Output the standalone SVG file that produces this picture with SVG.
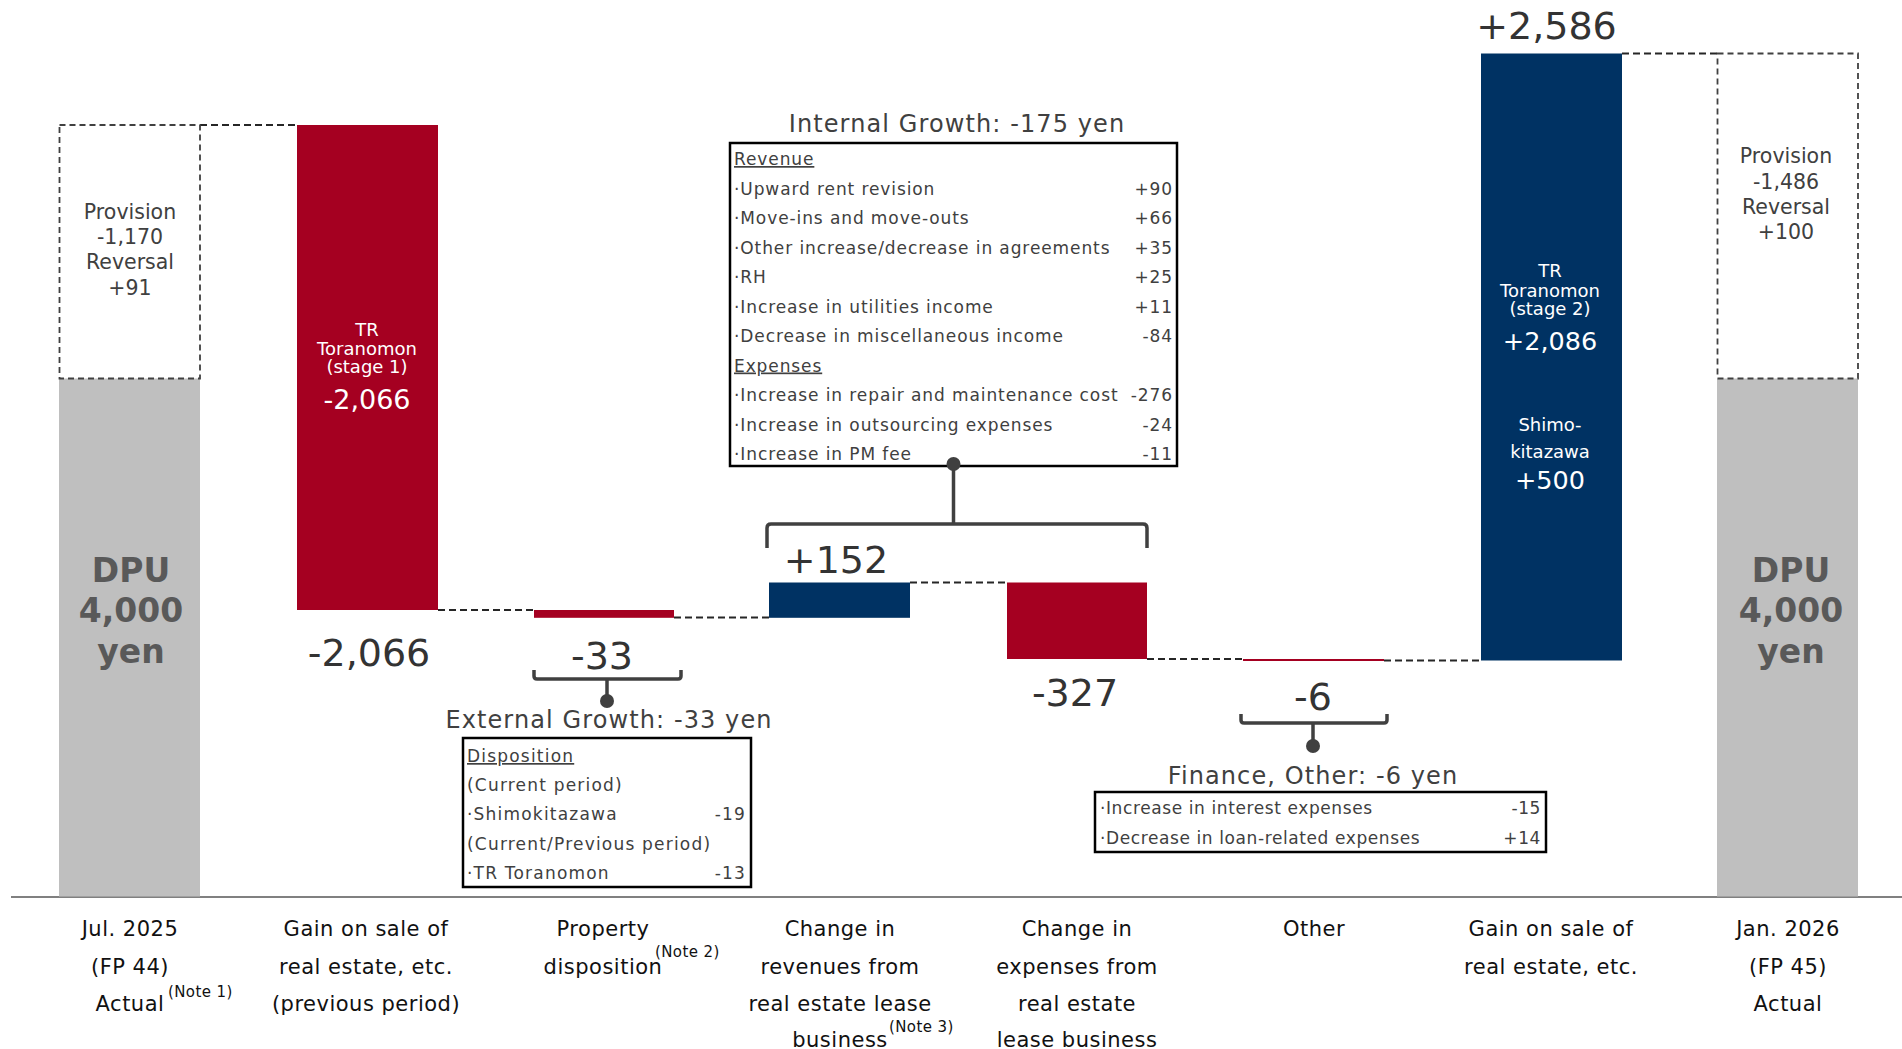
<svg xmlns="http://www.w3.org/2000/svg" width="1902" height="1049" viewBox="0 0 1902 1049">
<style>
text{font-family:"DejaVu Sans",Verdana,sans-serif;}
.cat{font-size:21px;letter-spacing:0.5px;fill:#111;text-anchor:middle}
.note{font-size:15px;letter-spacing:0.4px;fill:#111}
.big{font-size:38px;fill:#333;text-anchor:middle}
.dpu{font-size:33px;font-weight:bold;fill:#595959;text-anchor:middle}
.prov{font-size:20.5px;fill:#404040;text-anchor:middle}
.w{fill:#fff;text-anchor:middle}
.wl{font-size:18px}
.wn{font-size:25.5px}
.title{font-size:24px;letter-spacing:1.1px;fill:#404040;text-anchor:middle}
.bx{font-size:17px;fill:#404040}
.ib{letter-spacing:0.9px}
.eb{letter-spacing:1.2px}
.fb{letter-spacing:0.6px}
.v{text-anchor:end}
.u{text-decoration:underline}
.red{fill:#A50021}
.blue{fill:#003263}
.gray{fill:#BFBFBF}
.dash{fill:none;stroke:#262626;stroke-width:2;stroke-dasharray:7 4}
.dbox{fill:none;stroke:#404040;stroke-width:1.8;stroke-dasharray:6 4}
.box{fill:#fff;stroke:#000;stroke-width:2.5}
.br{fill:none;stroke:#404040;stroke-width:3.5;stroke-linejoin:round;stroke-linecap:butt}
.dot{fill:#404040}
.axis{stroke:#808080;stroke-width:2}
</style>

<!-- axis -->
<line class="axis" x1="11" y1="897" x2="1902" y2="897"/>

<!-- connectors -->
<g id="connectors">
  <line class="dash" x1="200" y1="125" x2="297" y2="125"/>
  <line class="dash" x1="438" y1="610" x2="534" y2="610"/>
  <line class="dash" x1="674" y1="617.5" x2="769" y2="617.5"/>
  <line class="dash" x1="910" y1="582.5" x2="1007" y2="582.5"/>
  <line class="dash" x1="1147" y1="659" x2="1243" y2="659"/>
  <line class="dash" x1="1384" y1="660.5" x2="1481" y2="660.5"/>
  <line class="dash" x1="1622" y1="53.5" x2="1717" y2="53.5"/>
</g>

<!-- Bar 1: Jul 2025 -->
<g id="start">
  <rect class="gray" x="59" y="378.5" width="141" height="518"/>
  <rect class="dbox" x="59.5" y="125" width="140.5" height="253.5"/>
  <text class="prov" x="130" y="219">Provision</text>
  <text class="prov" x="130" y="244">-1,170</text>
  <text class="prov" x="130" y="269">Reversal</text>
  <text class="prov" x="130" y="295">+91</text>
  <text class="dpu" x="131" y="582">DPU</text>
  <text class="dpu" x="131" y="622">4,000</text>
  <text class="dpu" x="131" y="663">yen</text>
  <text class="cat" x="130" y="936">Jul. 2025</text>
  <text class="cat" x="130" y="973.5">(FP 44)</text>
  <text class="cat" x="130" y="1011">Actual</text>
  <text class="note" x="168" y="997">(Note 1)</text>
</g>

<!-- Bar 2 -->
<g id="gain-prev">
  <rect class="red" x="297" y="125" width="141" height="485"/>
  <text class="w wl" x="367" y="336">TR</text>
  <text class="w wl" x="367" y="355">Toranomon</text>
  <text class="w wl" x="367" y="373">(stage 1)</text>
  <text class="w" style="font-size:27px" x="367" y="409">-2,066</text>
  <text class="big" x="369" y="666">-2,066</text>
  <text class="cat" x="366" y="936">Gain on sale of</text>
  <text class="cat" x="366" y="973.5">real estate, etc.</text>
  <text class="cat" x="366" y="1011">(previous period)</text>
</g>

<!-- Bar 3 -->
<g id="disposition">
  <rect class="red" x="534" y="610" width="140" height="7.8"/>
  <text class="big" x="602" y="669">-33</text>
  <path class="br" d="M534,670 V676 Q534,679 537,679 H678 Q681,679 681,676 V670 M607,679 V701"/>
  <circle class="dot" cx="607" cy="701" r="7"/>
  <text class="title" x="609" y="728">External Growth: -33 yen</text>
  <rect class="box" x="463" y="738" width="288" height="149"/>
  <text class="bx eb u" x="467" y="762">Disposition</text>
  <text class="bx eb" x="467" y="791">(Current period)</text>
  <text class="bx eb" x="467" y="820">·Shimokitazawa</text>
  <text class="bx eb v" x="746" y="820">-19</text>
  <text class="bx eb" x="467" y="850">(Current/Previous period)</text>
  <text class="bx eb" x="467" y="879">·TR Toranomon</text>
  <text class="bx eb v" x="746" y="879">-13</text>
  <text class="cat" x="603" y="936">Property</text>
  <text class="cat" x="603" y="973.5">disposition</text>
  <text class="note" x="655" y="957">(Note 2)</text>
</g>

<!-- Internal growth box -->
<g id="internal-growth">
  <text class="title" x="957" y="132">Internal Growth: -175 yen</text>
  <rect class="box" x="730" y="143" width="447" height="323"/>
  <text class="bx ib u" x="734" y="165">Revenue</text>
  <text class="bx ib" x="734" y="194.5">·Upward rent revision</text>
  <text class="bx ib v" x="1173" y="194.5">+90</text>
  <text class="bx ib" x="734" y="224">·Move-ins and move-outs</text>
  <text class="bx ib v" x="1173" y="224">+66</text>
  <text class="bx ib" x="734" y="253.5">·Other increase/decrease in agreements</text>
  <text class="bx ib v" x="1173" y="253.5">+35</text>
  <text class="bx ib" x="734" y="283">·RH</text>
  <text class="bx ib v" x="1173" y="283">+25</text>
  <text class="bx ib" x="734" y="312.5">·Increase in utilities income</text>
  <text class="bx ib v" x="1173" y="312.5">+11</text>
  <text class="bx ib" x="734" y="342">·Decrease in miscellaneous income</text>
  <text class="bx ib v" x="1173" y="342">-84</text>
  <text class="bx ib u" x="734" y="371.5">Expenses</text>
  <text class="bx ib" x="734" y="401">·Increase in repair and maintenance cost</text>
  <text class="bx ib v" x="1173" y="401">-276</text>
  <text class="bx ib" x="734" y="430.5">·Increase in outsourcing expenses</text>
  <text class="bx ib v" x="1173" y="430.5">-24</text>
  <text class="bx ib" x="734" y="460">·Increase in PM fee</text>
  <text class="bx ib v" x="1173" y="460">-11</text>
  <path class="br" d="M767,548 V528 Q767,524 771,524 H1143 Q1147,524 1147,528 V548 M953.5,524 V464"/>
  <circle class="dot" cx="953.5" cy="464" r="7"/>
</g>

<!-- Bar 4 -->
<g id="revenues">
  <rect class="blue" x="769" y="582.5" width="141" height="35.3"/>
  <text class="big" x="836" y="573">+152</text>
  <text class="cat" x="840" y="936">Change in</text>
  <text class="cat" x="840" y="973.5">revenues from</text>
  <text class="cat" x="840" y="1011">real estate lease</text>
  <text class="cat" x="840" y="1047">business</text>
  <text class="note" x="889" y="1032">(Note 3)</text>
</g>

<!-- Bar 5 -->
<g id="expenses">
  <rect class="red" x="1007" y="582.5" width="140" height="76.5"/>
  <text class="big" x="1075" y="706">-327</text>
  <text class="cat" x="1077" y="936">Change in</text>
  <text class="cat" x="1077" y="973.5">expenses from</text>
  <text class="cat" x="1077" y="1011">real estate</text>
  <text class="cat" x="1077" y="1047">lease business</text>
</g>

<!-- Bar 6 -->
<g id="other">
  <rect class="red" x="1243" y="659" width="141" height="2"/>
  <text class="big" x="1313" y="710">-6</text>
  <path class="br" d="M1241,714 V720 Q1241,723 1244,723 H1384 Q1387,723 1387,720 V714 M1313,723 V746"/>
  <circle class="dot" cx="1313" cy="746" r="7"/>
  <text class="title" x="1313" y="784">Finance, Other: -6 yen</text>
  <rect class="box" x="1095" y="792" width="451" height="60"/>
  <text class="bx fb" x="1100" y="814">·Increase in interest expenses</text>
  <text class="bx fb v" x="1541" y="814">-15</text>
  <text class="bx fb" x="1100" y="844">·Decrease in loan-related expenses</text>
  <text class="bx fb v" x="1541" y="844">+14</text>
  <text class="cat" x="1314" y="936">Other</text>
</g>

<!-- Bar 7 -->
<g id="gain-current">
  <rect class="blue" x="1481" y="53.5" width="141" height="607"/>
  <text class="big" x="1546.5" y="39">+2,586</text>
  <text class="w wl" x="1550" y="277">TR</text>
  <text class="w wl" x="1550" y="296.5">Toranomon</text>
  <text class="w wl" x="1550" y="315">(stage 2)</text>
  <text class="w wn" x="1550" y="350">+2,086</text>
  <text class="w wl" x="1550" y="431">Shimo-</text>
  <text class="w wl" x="1550" y="458">kitazawa</text>
  <text class="w wn" x="1550" y="489">+500</text>
  <text class="cat" x="1551" y="936">Gain on sale of</text>
  <text class="cat" x="1551" y="973.5">real estate, etc.</text>
</g>

<!-- Bar 8 -->
<g id="end">
  <rect class="gray" x="1717" y="378.5" width="141" height="518"/>
  <rect class="dbox" x="1717.5" y="53.5" width="140.5" height="325"/>
  <text class="prov" x="1786" y="163">Provision</text>
  <text class="prov" x="1786" y="189">-1,486</text>
  <text class="prov" x="1786" y="214">Reversal</text>
  <text class="prov" x="1786" y="239">+100</text>
  <text class="dpu" x="1791" y="582">DPU</text>
  <text class="dpu" x="1791" y="622">4,000</text>
  <text class="dpu" x="1791" y="663">yen</text>
  <text class="cat" x="1788" y="936">Jan. 2026</text>
  <text class="cat" x="1788" y="973.5">(FP 45)</text>
  <text class="cat" x="1788" y="1011">Actual</text>
</g>
</svg>
